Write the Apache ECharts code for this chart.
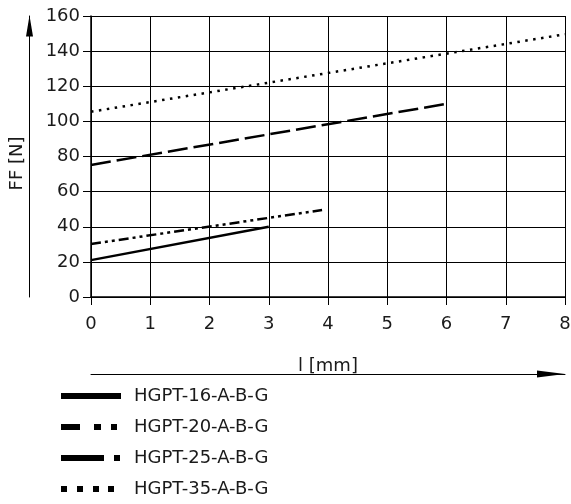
<!DOCTYPE html>
<html>
<head>
<meta charset="utf-8">
<script src="https://cdn.jsdelivr.net/npm/echarts@6/dist/echarts.min.js"></script>
<style>html,body{margin:0;padding:0;background:#fff}#c{width:571px;height:504px}</style>
</head>
<body>
<div id="c"></div>
<script>
var xTicks = [0, 1, 2, 3, 4, 5, 6, 7, 8];
var yTicks = [0, 20, 40, 60, 80, 100, 120, 140, 160];
var seriesNames = ['HGPT-16-A-B-G', 'HGPT-20-A-B-G', 'HGPT-25-A-B-G', 'HGPT-35-A-B-G'];
var hgpt16 = [[0, 21], [3, 40]];
var hgpt20 = [[0, 30.2], [3.9, 49.5]];
var hgpt25 = [[0, 75.2], [6, 110]];
var hgpt35 = [[0, 105.5], [8, 149.6]];
var xName = 'l [mm]';
var yName = 'FF [N]';

var FONT = 'DejaVu Sans';
var FS = 18;
var TXT = '#1a1a1a';
var chart = echarts.init(document.getElementById('c'));

var icons = [
  'path://M0,0H60V6H0Z',
  'path://M60,6M0,0H19V6H0ZM33,0H40V6H33ZM50,0H56V6H50Z',
  'path://M60,6M0,0H43V6H0ZM53,0H59V6H53Z',
  'path://M60,6M0,0H6V6H0ZM16,0H22V6H16ZM32,0H38V6H32ZM47,0H53V6H47Z'
];
var dashes = ['solid', [10, 4, 3, 4, 3, 4], [20, 6], [2.5, 5.5]];
var datas = [hgpt16, hgpt20, hgpt25, hgpt35];

chart.setOption({
  animation: false,
  grid: {left: 91, right: 6, top: 16, bottom: 207, containLabel: false, outerBoundsMode: 'none'},
  legend: {
    orient: 'vertical', left: 61, top: 384, padding: 0,
    itemWidth: 60, itemHeight: 6, itemGap: 7,
    data: seriesNames.map(function (n, i) { return {name: n, icon: icons[i]}; }),
    textStyle: {fontFamily: FONT, fontSize: FS, color: TXT, lineHeight: 16, padding: [8, 0, 0, 8]}
  },
  xAxis: [{
    type: 'value', min: xTicks[0], max: xTicks[xTicks.length - 1], interval: 1,
    axisLine: {show: true, onZero: false, lineStyle: {color: '#000', width: 1.5}},
    axisTick: {show: true, length: 8, lineStyle: {color: '#000', width: 1}},
    axisLabel: {fontFamily: FONT, fontSize: FS, color: TXT, margin: 18},
    splitLine: {show: true, lineStyle: {color: '#000', width: 1}}
  }, {
    type: 'value', position: 'bottom', offset: 77, min: 0, max: 8,
    axisLine: {show: true, onZero: false, symbol: ['none', 'path://M3.5,0L7,28L0,28Z'], symbolSize: [7, 28], symbolOffset: [0, -14], lineStyle: {color: '#000', width: 1}},
    axisTick: {show: false}, axisLabel: {show: false}, splitLine: {show: false},
    name: xName, nameLocation: 'middle', nameGap: -17,
    nameTextStyle: {fontFamily: FONT, fontSize: FS, color: TXT}
  }],
  yAxis: [{
    type: 'value', min: yTicks[0], max: yTicks[yTicks.length - 1], interval: 20,
    axisLine: {show: true, onZero: false, lineStyle: {color: '#000', width: 1.5}},
    axisTick: {show: true, length: 8, lineStyle: {color: '#000', width: 1}},
    axisLabel: {fontFamily: FONT, fontSize: FS, color: TXT, margin: 11},
    splitLine: {show: true, lineStyle: {color: '#000', width: 1}}
  }, {
    type: 'value', position: 'left', offset: 61.5, min: 0, max: 160,
    axisLine: {show: true, onZero: false, symbol: ['none', 'path://M3.5,0L7,21L0,21Z'], symbolSize: [7, 21], symbolOffset: [0, -10], lineStyle: {color: '#000', width: 1}},
    axisTick: {show: false}, axisLabel: {show: false}, splitLine: {show: false},
    name: yName, nameLocation: 'middle', nameGap: 3, nameRotate: 90,
    nameTextStyle: {fontFamily: FONT, fontSize: FS, color: TXT, padding: [0, 14, 0, 0]}
  }],
  series: seriesNames.map(function (n, i) {
    return {
      name: n, type: 'line', data: datas[i], symbol: 'none',
      lineStyle: {color: '#000', width: 2.5, type: dashes[i], cap: 'butt'},
      itemStyle: {color: '#000'}
    };
  })
});
</script>
</body>
</html>
